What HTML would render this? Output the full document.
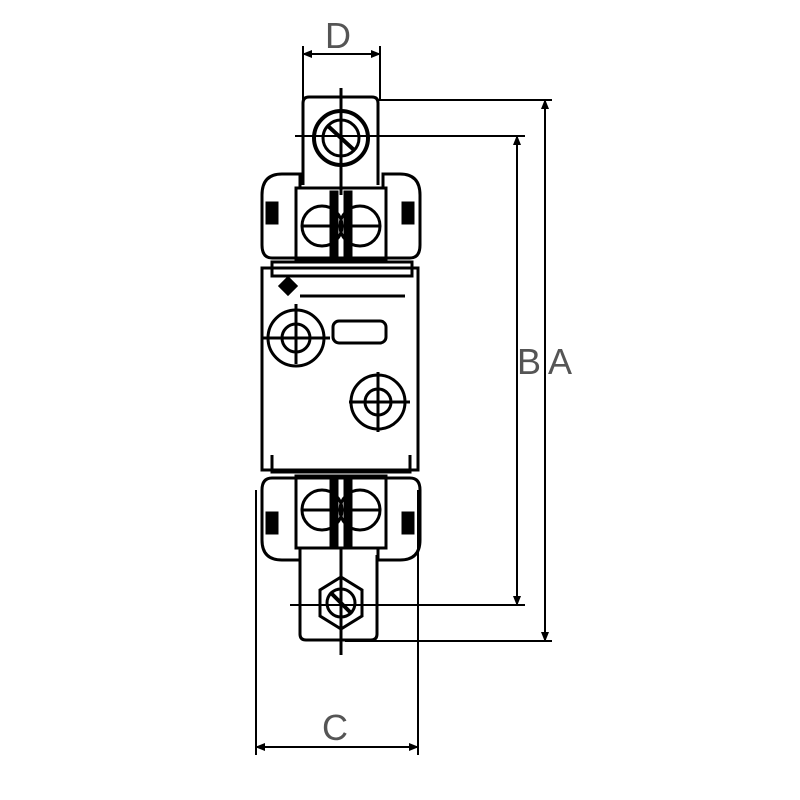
<!DOCTYPE html>
<html><head><style>
body{margin:0;background:#fff}
svg{display:block}
text{font-family:"Liberation Sans",sans-serif;fill:#555;font-size:36px}
</style></head><body>
<svg width="800" height="800" viewBox="0 0 800 800" xmlns="http://www.w3.org/2000/svg">
<defs>
<marker id="ar" markerWidth="10" markerHeight="10" refX="9" refY="5" orient="auto-start-reverse" markerUnits="userSpaceOnUse"><path d="M0,1 L10,5 L0,9 Z" fill="#000"/></marker>
</defs>
<g stroke="#000" fill="none" stroke-width="2">
<line x1="303" y1="46" x2="303" y2="100"/>
<line x1="380" y1="46" x2="380" y2="100"/>
<line x1="303" y1="54" x2="380" y2="54" marker-start="url(#ar)" marker-end="url(#ar)"/>
<line x1="378" y1="100" x2="552" y2="100"/>
<line x1="345" y1="641" x2="552" y2="641"/>
<line x1="545" y1="100" x2="545" y2="641" marker-start="url(#ar)" marker-end="url(#ar)"/>
<line x1="295" y1="136" x2="525" y2="136"/>
<line x1="290" y1="605" x2="525" y2="605"/>
<line x1="517" y1="136" x2="517" y2="605" marker-start="url(#ar)" marker-end="url(#ar)"/>
<line x1="256" y1="490" x2="256" y2="755"/>
<line x1="418" y1="490" x2="418" y2="755"/>
<line x1="256" y1="747" x2="418" y2="747" marker-start="url(#ar)" marker-end="url(#ar)"/>
</g>
<g stroke="#000" fill="none" stroke-width="3">
<path d="M303,185 V103 Q303,97 309,97 H372 Q378,97 378,103 V185"/>
<circle cx="341" cy="138" r="27" stroke-width="4"/>
<circle cx="341" cy="138" r="18"/>
<line x1="328" y1="126" x2="354" y2="150" stroke-width="4"/>
<line x1="341" y1="88" x2="341" y2="195"/>
<path d="M262,245 V195 Q262,174 282,174 H300 V188 H383 V174 H400 Q420,174 420,195 V245 Q420,258 410,258 H272 Q262,258 262,245 Z"/>
<rect x="296" y="188" width="90" height="72"/>
<circle cx="322" cy="226" r="20"/><circle cx="360" cy="226" r="20"/>
<line x1="302" y1="226" x2="380" y2="226"/>
<rect x="331" y="192" width="6" height="68" fill="#000"/>
<rect x="345" y="192" width="6" height="68" fill="#000"/>
<rect x="267" y="203" width="10" height="20" fill="#000"/>
<rect x="403" y="203" width="10" height="20" fill="#000"/>
<path d="M262,268 H418 V470 H262 Z"/>
<path d="M272,262 H412 V276 H272 Z"/>
<line x1="300" y1="296" x2="405" y2="296"/>
<path d="M280,286 l8,-8 l8,8 l-8,8 z" fill="#000"/>
<circle cx="296" cy="338" r="28"/>
<circle cx="296" cy="338" r="14"/>
<line x1="262" y1="338" x2="330" y2="338"/>
<line x1="296" y1="304" x2="296" y2="364"/>
<rect x="333" y="321" width="53" height="22" rx="6"/>
<circle cx="378" cy="402" r="27"/>
<circle cx="378" cy="402" r="13"/>
<line x1="349" y1="402" x2="410" y2="402"/>
<line x1="378" y1="372" x2="378" y2="432"/>
<path d="M272,455 V472 H410 V455"/>
<path d="M262,490 Q262,478 272,478 H410 Q420,478 420,490 V540 Q420,560 400,560 H378 V548 H300 V560 H282 Q262,560 262,540 Z"/>
<rect x="296" y="476" width="90" height="72"/>
<circle cx="322" cy="510" r="20"/><circle cx="360" cy="510" r="20"/>
<line x1="302" y1="510" x2="380" y2="510"/>
<rect x="331" y="478" width="6" height="68" fill="#000"/>
<rect x="345" y="478" width="6" height="68" fill="#000"/>
<rect x="267" y="513" width="10" height="20" fill="#000"/>
<rect x="403" y="513" width="10" height="20" fill="#000"/>
<path d="M300,555 V634 Q300,640 306,640 H371 Q377,640 377,634 V555"/>
<polygon points="341,577 362,590 362,616 341,629 320,616 320,590"/>
<circle cx="341" cy="603" r="14"/>
<line x1="330" y1="592" x2="352" y2="614" stroke-width="4"/>
<line x1="341" y1="548" x2="341" y2="655"/>
</g>
<text x="325" y="48">D</text>
<text x="517" y="374">B</text>
<text x="548" y="374">A</text>
<text x="322" y="740">C</text>
</svg>
</body></html>
